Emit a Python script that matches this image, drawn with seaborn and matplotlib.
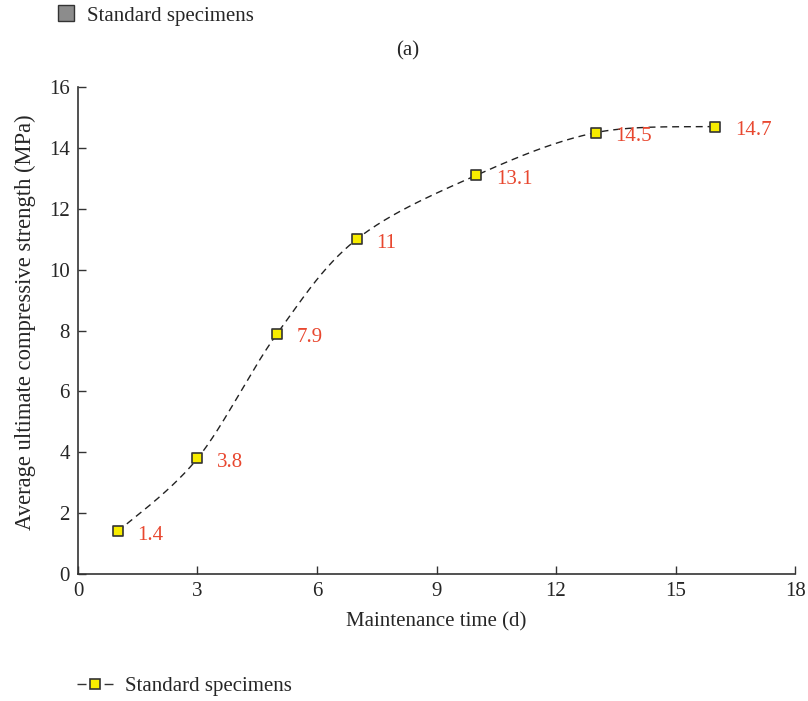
import numpy as np
import pandas as pd
import matplotlib
matplotlib.use("Agg")
import matplotlib.pyplot as plt
import seaborn as sns
from matplotlib.patches import Patch
from matplotlib.lines import Line2D

days = [1, 3, 5, 7, 10, 13, 16]
strength = [1.4, 3.8, 7.9, 11.0, 13.1, 14.5, 14.7]
labels = ["1.4", "3.8", "7.9", "11", "13.1", "14.5", "14.7"]
series_name = "Standard specimens"

sns.set_style("white")
plt.rcParams["font.family"] = ["Liberation Serif", "DejaVu Serif"]
FS = 15

def smooth_curve(x, y, sx, sy, n=60):
    # Excel-style smoothed line (Catmull-Rom Bezier) computed in screen-scaled space
    P = np.column_stack([np.asarray(x, float) * sx, np.asarray(y, float) * sy])
    pts = []
    for i in range(len(P) - 1):
        p0 = P[i - 1] if i > 0 else P[i]
        p1, p2 = P[i], P[i + 1]
        p3 = P[i + 2] if i + 2 < len(P) else P[i + 1]
        c1 = p1 + (p2 - p0) / 6.0
        c2 = p2 - (p3 - p1) / 6.0
        t = np.linspace(0, 1, n)[:, None]
        seg = ((1 - t) ** 3) * p1 + 3 * ((1 - t) ** 2) * t * c1 + 3 * (1 - t) * t ** 2 * c2 + t ** 3 * p2
        pts.append(seg if i == 0 else seg[1:])
    pts = np.vstack(pts)
    return pts[:, 0] / sx, pts[:, 1] / sy

cx, cy = smooth_curve(days, strength, 717 / 18, 487 / 16)
curve = pd.DataFrame({"x": cx, "y": cy, "order": np.arange(len(cx))})
df = pd.DataFrame({"day": days, "strength": strength})

fig = plt.figure(figsize=(8.08, 7.01), dpi=100)
ax = fig.add_axes([0.0965, 0.181, 0.8875, 0.695])

sns.lineplot(data=curve, x="x", y="y", ax=ax, color="#222222", sort=False,
             estimator=None, linestyle=(0, (5, 3.5)), linewidth=1.0)
sns.scatterplot(data=df, x="day", y="strength", ax=ax, marker="s", s=55,
                color="#f7ec00", edgecolor="#333333", linewidth=1.2, zorder=5)

for xv, yv, lab in zip(days, strength, labels):
    ax.annotate(lab, (xv, yv), xytext=(14, -3), textcoords="offset points",
                color="#e8472f", fontsize=FS, va="center", ha="left")

ax.set_xlim(0, 18)
ax.set_ylim(0, 16)
ax.set_xticks(range(0, 19, 3))
ax.set_yticks(range(0, 17, 2))
ax.set_xlabel("Maintenance time (d)", fontsize=FS, labelpad=8)
ax.set_ylabel("Average ultimate compressive strength (MPa)", fontsize=16.3)
ax.yaxis.set_label_coords(-0.059, 0.517)
for s in ["top", "right"]:
    ax.spines[s].set_visible(False)
for s in ["left", "bottom"]:
    ax.spines[s].set_color("#333333")
    ax.spines[s].set_linewidth(1.2)
ax.tick_params(direction="in", length=6, width=1.0, color="#333333",
               labelsize=FS, pad=6, left=True, bottom=True)

fig.legend(handles=[Patch(facecolor="#8c8c8c", edgecolor="#333333", label=series_name)],
           loc="center left", bbox_to_anchor=(0.048, 0.978), frameon=False,
           fontsize=FS, handlelength=0.8, handleheight=0.8, handletextpad=0.63)
fig.text(0.505, 0.927, "(a)", ha="center", va="center", fontsize=FS)

fig.legend(handles=[Line2D([0], [0], color="#333333", linestyle=(0, (6.5, 13)), linewidth=1.0,
                           marker="s", markersize=7.5, markerfacecolor="#f7ec00",
                           markeredgecolor="#333333", markeredgewidth=1.2, label=series_name)],
           loc="center left", bbox_to_anchor=(0.072, 0.021), frameon=False,
           fontsize=FS, handlelength=1.73, handletextpad=0.6)

fig.savefig("out.png", dpi=100)
